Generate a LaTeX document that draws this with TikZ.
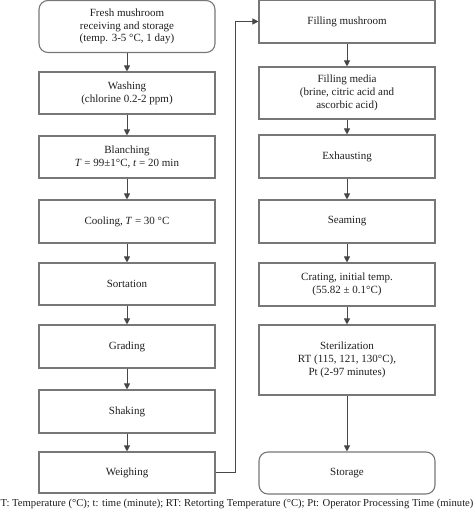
\documentclass[tikz,border=0pt]{standalone}
\usepackage{fontspec}
\setmainfont{Liberation Serif}
\usetikzlibrary{arrows.meta}
\definecolor{linegray}{HTML}{777777}
\definecolor{txt}{HTML}{1E1E1E}
\tikzset{
  box/.style={draw=linegray, line width=1.1pt, minimum width=176pt, align=center, inner sep=0pt, text=txt, font=\fontsize{11}{12.8}\selectfont},
  rbox/.style={box, rounded corners=9pt},
  flow/.style={draw=linegray!60!black, line width=1pt, -{Triangle[length=6pt,width=6pt]}},
}
\begin{document}
\begin{tikzpicture}[x=1pt,y=-1pt]
\useasboundingbox (0,0) rectangle (474,511);
% left column
\node[rbox, minimum height=52pt] (fresh) at (127,26.5) {Fresh mushroom\\receiving and storage\\(temp. 3-5 °C, 1 day)};
\node[box, minimum height=42pt] (wash) at (127,93) {Washing\\(chlorine 0.2-2 ppm)};
\node[box, minimum height=42pt] (blanch) at (127,157) {Blanching\\\textit{T} = 99±1°C, \textit{t} = 20 min};
\node[box, minimum height=43pt] (cool) at (127,221.5) {Cooling, \textit{T} = 30 °C};
\node[box, minimum height=42pt] (sort) at (127,284) {Sortation};
\node[box, minimum height=43pt] (grade) at (127,346.5) {Grading};
\node[box, minimum height=43pt] (shake) at (127,411.5) {Shaking};
\node[box, minimum height=41pt] (weigh) at (127,472.5) {Weighing};
% right column
\node[box, minimum height=43pt] (fillm) at (347,21.5) {Filling mushroom};
\node[box, minimum height=52pt] (media) at (347,93) {Filling media\\(brine, citric acid and\\ascorbic acid)};
\node[box, minimum height=43pt] (exh) at (347,156.5) {Exhausting};
\node[box, minimum height=43pt] (seam) at (347,221.5) {Seaming};
\node[box, minimum height=43pt] (crate) at (347,284.5) {Crating, initial temp.\\(55.82 ± 0.1°C)};
\node[box, minimum height=70pt] (steril) at (347,360) {Sterilization\\RT (115, 121, 130°C),\\Pt (2-97 minutes)};
\node[rbox, minimum height=42pt] (store) at (347,473) {Storage};
% footer
\node[text=txt, font=\fontsize{10.65}{12}\selectfont, inner sep=0pt] (foot) at (237,503.5) {T: Temperature (°C); t: time (minute); RT: Retorting Temperature (°C); Pt: Operator Processing Time (minute)};
% connectors
\draw[flow] (fresh) -- (wash);
\draw[flow] (wash) -- (blanch);
\draw[flow] (blanch) -- (cool);
\draw[flow] (cool) -- (sort);
\draw[flow] (sort) -- (grade);
\draw[flow] (grade) -- (shake);
\draw[flow] (shake) -- (weigh);
\draw[flow] (weigh.east) -- ++(20,0) |- (fillm.west);
\draw[flow] (fillm) -- (media);
\draw[flow] (media) -- (exh);
\draw[flow] (exh) -- (seam);
\draw[flow] (seam) -- (crate);
\draw[flow] (crate) -- (steril);
\draw[flow] (steril) -- (store);
\end{tikzpicture}
\end{document}
